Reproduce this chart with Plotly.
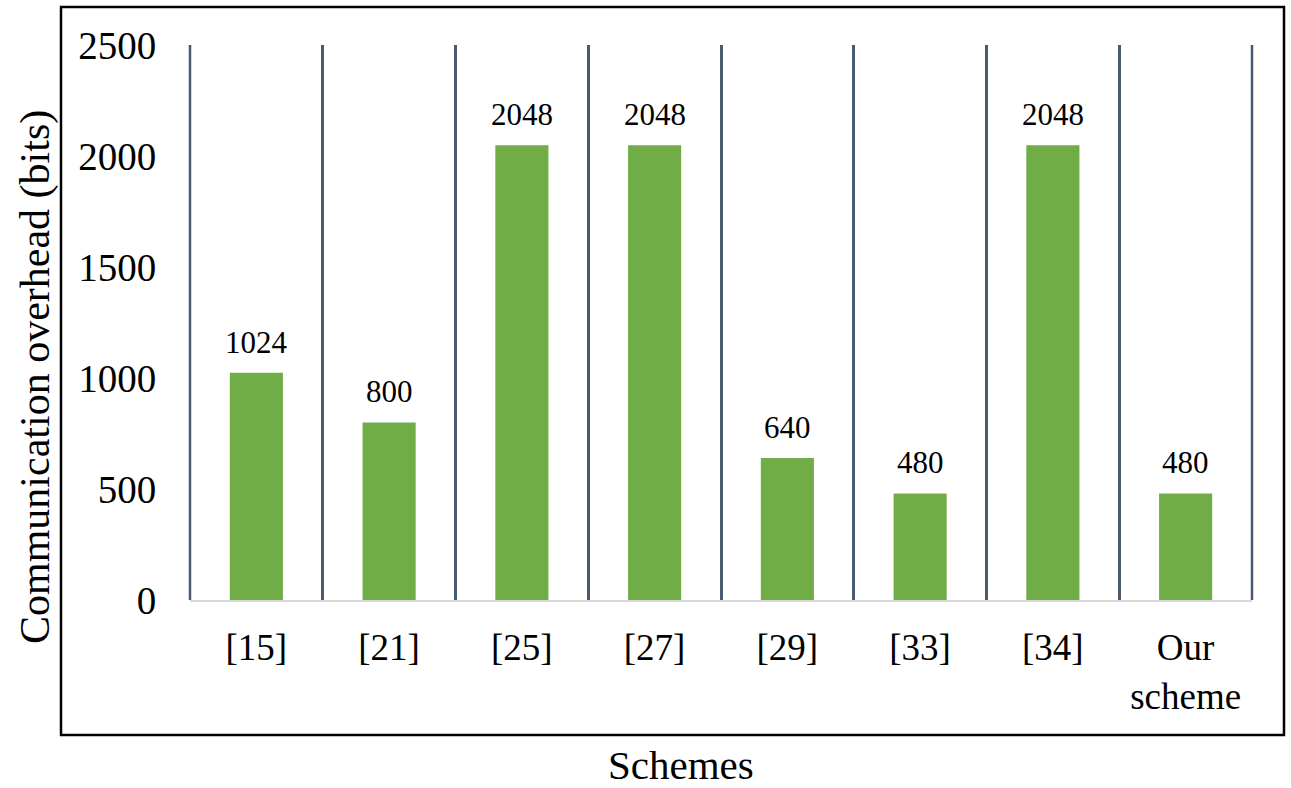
import plotly.graph_objects as go

categories = ["[15]", "[21]", "[25]", "[27]", "[29]", "[33]", "[34]", "Our<br>scheme"]
values = [1024, 800, 2048, 2048, 640, 480, 2048, 480]
y_ticks = [0, 500, 1000, 1500, 2000, 2500]

FONT = "Liberation Serif"
W, H = 1291, 788
L, R, T, B = 190, 39, 45, 188
pw, ph = W - L - R, H - T - B
GRID = "#4A5A70"

def px_x(x):
    return (x - L) / pw

def px_y(y):
    return (H - B - y) / ph

fig = go.Figure()
fig.add_trace(go.Bar(
    x=categories, y=values,
    marker=dict(color="#70AD47", line=dict(width=0)),
    hoverinfo="x+y",
))

for c, v in zip(categories, values):
    fig.add_annotation(x=c, y=v, text=str(v), showarrow=False, yanchor="bottom",
                       yshift=11, font=dict(family=FONT, size=31, color="#000000"))

# axis titles
fig.add_annotation(xref="paper", yref="paper", x=px_x(35), y=px_y(377),
                   xanchor="center", yanchor="middle",
                   text="Communication overhead (bits)", textangle=-90, showarrow=False,
                   font=dict(family=FONT, size=42, color="#000000"))
fig.add_annotation(xref="paper", yref="paper", x=px_x(681), y=px_y(765),
                   xanchor="center", yanchor="middle", borderpad=0,
                   text="Schemes", showarrow=False,
                   font=dict(family=FONT, size=41, color="#000000"))

# outer frame
fig.add_shape(type="rect", xref="paper", yref="paper",
              x0=px_x(61), x1=px_x(1284), y0=px_y(735), y1=px_y(7),
              line=dict(color="#000000", width=2.5), fillcolor="rgba(0,0,0,0)", layer="below")

# edge gridlines at the outer category boundaries (paper refs so they are not clipped)
for xp in (0, 1):
    fig.add_shape(type="line", xref="paper", yref="paper", x0=xp, x1=xp, y0=0, y1=1,
                  line=dict(color=GRID, width=2.5), layer="below")

n = len(categories)
fig.update_layout(
    width=W, height=H,
    margin=dict(l=L, r=R, t=T, b=B),
    paper_bgcolor="white", plot_bgcolor="white",
    bargap=0.6, showlegend=False,
    font=dict(family=FONT, color="#000000"),
    xaxis=dict(
        type="category", tickson="boundaries", showgrid=True,
        gridcolor=GRID, gridwidth=2.5,
        showline=True, linecolor="#D9D9D9", linewidth=2,
        ticks="outside", ticklen=20, tickcolor="rgba(0,0,0,0)",
        ticklabelstandoff=14,
        tickfont=dict(family=FONT, size=37, color="#000000"),
        range=[-0.5, n - 0.5], zeroline=False,
    ),
    yaxis=dict(
        range=[0, 2500], tickvals=y_ticks, showgrid=False, zeroline=False,
        showline=False, ticks="outside", ticklen=25, tickcolor="rgba(0,0,0,0)",
        tickfont=dict(family=FONT, size=39, color="#000000"),
    ),
)

fig.write_html("out.html")
